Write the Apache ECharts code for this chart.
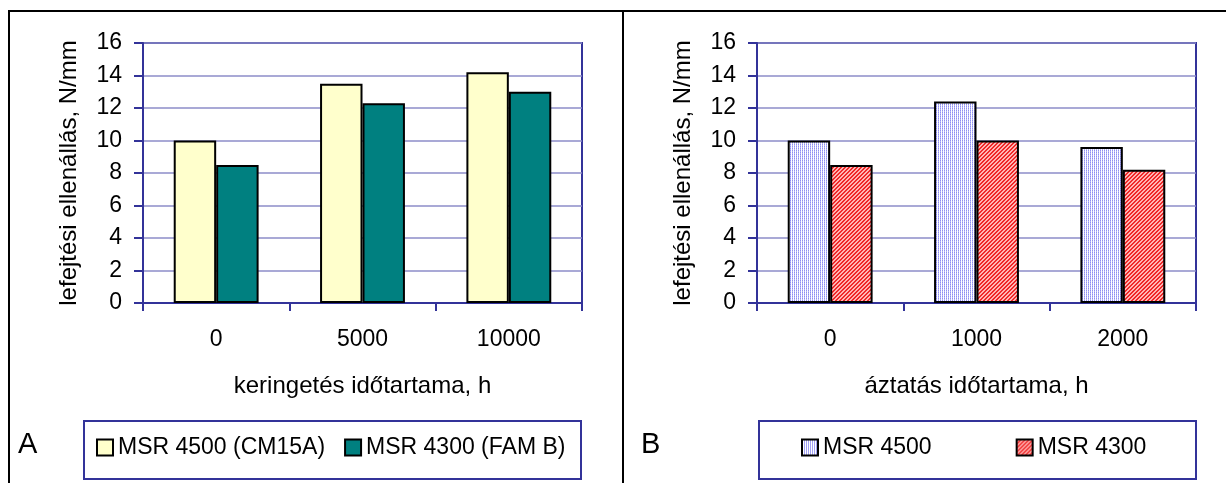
<!DOCTYPE html>
<html>
<head>
<meta charset="utf-8">
<script src="https://cdn.jsdelivr.net/npm/echarts@6/dist/echarts.min.js"></script>
<style>
html,body{margin:0;padding:0;background:#fff;}
#chart{width:1226px;height:483px;}
</style>
</head>
<body>
<div id="chart"></div>
<script>
// ---- data ----
var categoriesA = ['0', '5000', '10000'];
var msr4500A = [10, 13.5, 14.2];
var msr4300A = [8.5, 12.3, 13.0];
var categoriesB = ['0', '1000', '2000'];
var msr4500B = [10, 12.4, 9.6];
var msr4300B = [8.5, 10, 8.2];
var seriesNamesA = ['MSR 4500 (CM15A)', 'MSR 4300 (FAM B)'];
var seriesNamesB = ['MSR 4500', 'MSR 4300'];
var yMin = 0, yMax = 16, yStep = 2;
var yAxisTitle = 'lefejtési ellenállás, N/mm';
var xAxisTitleA = 'keringetés időtartama, h';
var xAxisTitleB = 'áztatás időtartama, h';

// ---- patterns ----
function makeBluePattern() {
  var c = document.createElement('canvas'); c.width = 2; c.height = 2;
  var g = c.getContext('2d');
  g.fillStyle = '#ffffff'; g.fillRect(0, 0, 2, 2);
  g.fillStyle = '#8f8ff2'; g.fillRect(0, 0, 1, 1);
  g.fillStyle = '#b8b8f8'; g.fillRect(0, 1, 1, 1);
  return c;
}
function makeRedPattern() {
  var c = document.createElement('canvas'); c.width = 4; c.height = 4;
  var g = c.getContext('2d');
  g.fillStyle = '#ffb4b4'; g.fillRect(0, 0, 4, 4);
  g.fillStyle = '#f02828';
  for (var i = 0; i < 4; i++) {
    g.fillRect(i, (3 - i) % 4, 1, 1);
    g.fillRect(i, (4 - i) % 4, 1, 1);
  }
  return c;
}
var bluePat = { image: makeBluePattern(), repeat: 'repeat' };
var redPat = { image: makeRedPattern(), repeat: 'repeat' };

var FONT = 'Liberation Sans, Arial, sans-serif';
var AXIS_BLUE = '#333399';
var GRID_LINE = '#8c8cc8';

function yAxisCfg(gridIndex) {
  return {
    type: 'value', gridIndex: gridIndex, min: yMin, max: yMax, interval: yStep,
    name: yAxisTitle, nameLocation: 'middle', nameGap: 62,
    nameTextStyle: { fontFamily: FONT, fontSize: 24, color: '#000' },
    axisLine: { show: true, lineStyle: { color: AXIS_BLUE, width: 2 } },
    axisTick: { show: true, length: 9, lineStyle: { color: AXIS_BLUE, width: 2 } },
    axisLabel: { fontFamily: FONT, fontSize: 23, color: '#000', margin: 21 },
    splitLine: { show: true, lineStyle: { color: GRID_LINE, width: 1.5 } }
  };
}
function xAxisCfg(gridIndex, cats, title) {
  return {
    type: 'category', gridIndex: gridIndex, data: cats,
    name: title, nameLocation: 'middle', nameGap: 71,
    nameTextStyle: { fontFamily: FONT, fontSize: 24, color: '#000' },
    axisLine: { show: true, lineStyle: { color: AXIS_BLUE, width: 2 } },
    axisTick: { show: true, length: 8, lineStyle: { color: AXIS_BLUE, width: 2 } },
    axisLabel: { fontFamily: FONT, fontSize: 23, color: '#000', margin: 25 }
  };
}
function barSeries(name, data, idx, fill) {
  return {
    type: 'bar', name: name, data: data, xAxisIndex: idx, yAxisIndex: idx,
    barGap: '0%', barCategoryGap: '42%',
    itemStyle: { color: fill, borderColor: '#000', borderWidth: 2 },
    emphasis: { disabled: true }, animation: false
  };
}

var chart = echarts.init(document.getElementById('chart'), null, { renderer: 'canvas' });
chart.setOption({
  animation: false,
  backgroundColor: '#fff',
  grid: [
    { left: 143, top: 43, width: 439, height: 260, show: true, borderColor: AXIS_BLUE, borderWidth: 2, containLabel: false },
    { left: 757, top: 43, width: 439, height: 260, show: true, borderColor: AXIS_BLUE, borderWidth: 2, containLabel: false }
  ],
  xAxis: [xAxisCfg(0, categoriesA, xAxisTitleA), xAxisCfg(1, categoriesB, xAxisTitleB)],
  yAxis: [yAxisCfg(0), yAxisCfg(1)],
  legend: [
    { data: seriesNamesA, left: 96, top: 436, padding: 0, itemGap: 19, itemWidth: 16, itemHeight: 16,
      icon: 'rect', selectedMode: false,
      textStyle: { fontFamily: FONT, fontSize: 23, color: '#000' } },
    { data: seriesNamesB, left: 801, top: 436, padding: 0, itemGap: 84, itemWidth: 16, itemHeight: 16,
      icon: 'rect', selectedMode: false,
      textStyle: { fontFamily: FONT, fontSize: 23, color: '#000' } }
  ],
  series: [
    barSeries(seriesNamesA[0], msr4500A, 0, '#ffffcc'),
    barSeries(seriesNamesA[1], msr4300A, 0, '#008080'),
    barSeries(seriesNamesB[0], msr4500B, 1, bluePat),
    barSeries(seriesNamesB[1], msr4300B, 1, redPat)
  ],
  graphic: [
    { type: 'line', shape: { x1: 8, y1: 11, x2: 1226, y2: 11 }, style: { stroke: '#000', lineWidth: 2 }, silent: true },
    { type: 'line', shape: { x1: 9, y1: 11, x2: 9, y2: 483 }, style: { stroke: '#000', lineWidth: 2 }, silent: true },
    { type: 'line', shape: { x1: 623, y1: 11, x2: 623, y2: 483 }, style: { stroke: '#000', lineWidth: 2 }, silent: true },
    { type: 'rect', shape: { x: 84, y: 421, width: 497, height: 58 }, style: { fill: 'none', stroke: AXIS_BLUE, lineWidth: 2 }, silent: true },
    { type: 'rect', shape: { x: 759, y: 421, width: 437, height: 58 }, style: { fill: 'none', stroke: AXIS_BLUE, lineWidth: 2 }, silent: true },
    { type: 'text', left: 18, top: 430, style: { text: 'A', font: '29px Liberation Sans, Arial, sans-serif', fill: '#000' }, silent: true },
    { type: 'text', left: 641, top: 430, style: { text: 'B', font: '29px Liberation Sans, Arial, sans-serif', fill: '#000' }, silent: true }
  ]
});
</script>
</body>
</html>
